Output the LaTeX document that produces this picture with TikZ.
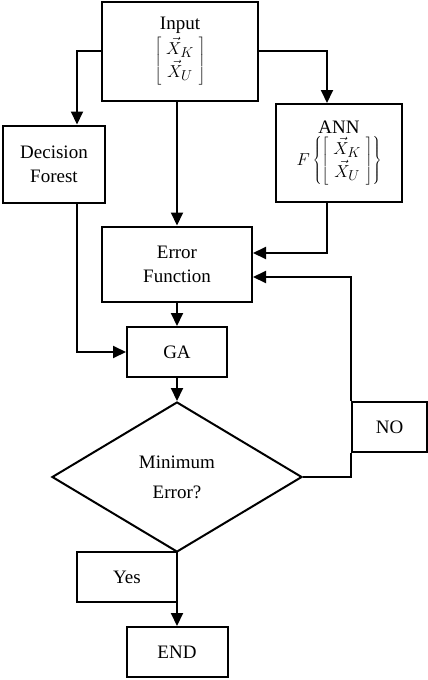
\documentclass[tikz,border=0pt]{standalone}
\usepackage{fontspec}
\setmainfont{Liberation Serif}
\usetikzlibrary{arrows.meta,shapes.geometric}

\tikzset{
  box/.style={draw, line width=2pt, rectangle, align=center, inner sep=0pt},
  arr/.style={line width=2pt, -{Triangle[length=13pt,width=12pt]}},
  lin/.style={line width=2pt},
}

\begin{document}
\begin{tikzpicture}[x=1pt,y=-1pt,font=\fontsize{19}{24}\selectfont]

			% cadre de la figure
			\useasboundingbox (0,0) rectangle (428,680);

			% Boites du haut
			\node[box, minimum width=156pt, minimum height=99pt] (inp) at (180,51)
			  {Input\\[2pt] $\left[\begin{array}{c}\vec{X}_{K}\\[-1pt] \vec{X}_{U}\end{array}\right]$};
			\node[box, minimum width=102pt, minimum height=77pt] (df) at (54,164) {Decision\\ Forest};
			\node[box, minimum width=126pt, minimum height=98pt] (ann) at (339,153)
			  {ANN\\[2pt] $F\left\{\left[\begin{array}{c}\vec{X}_{K}\\[-1pt] \vec{X}_{U}\end{array}\right]\right\}$};

			% Fonction d'erreur et GA
			\node[box, minimum width=150pt, minimum height=75pt] (ef) at (177,264) {Error\\ Function};
			\node[box, minimum width=100pt, minimum height=50pt] (ga) at (177,352) {GA};

			% Losange de decision
			\node[draw, line width=2pt, diamond, inner sep=0pt, minimum width=250pt, minimum height=150pt,
			  align=center, font=\fontsize{19}{30}\selectfont] (dec) at (177,477) {Minimum\\ Error?};

			% Sorties
			\node[box, minimum width=75pt, minimum height=50pt] (no) at (389.5,427) {NO};
			\node[box, minimum width=100pt, minimum height=50pt] (yes) at (127,577) {Yes};
			\node[box, minimum width=101pt, minimum height=50pt] (end) at (177,652) {END};

			% points de passage
			\coordinate (dfin) at (77,0);
			\coordinate (annin) at (327,0);
			\coordinate (efa) at (0,253);
			\coordinate (efb) at (0,277);

			% Fleches depuis Input
			\draw[arr] (inp.west) -| (dfin |- df.north);
			\draw[arr] (inp.east) -| (annin |- ann.north);
			\draw[arr] (inp.south -| ef.north) -- (ef.north);

			% ANN -> Error Function
			\draw[arr] (annin |- ann.south) |- (ef.east |- efa);

			% Decision Forest -> GA
			\draw[arr] (dfin |- df.south) |- (ga.west);

			% chaine centrale
			\draw[arr] (ef.south) -- (ga.north);
			\draw[arr] (ga.south) -- (dec.north);

			% boucle NO
			\draw[lin] (dec.east) -| (no.south west);
			\draw[arr] (no.north west) |- (ef.east |- efb);

			% sortie Yes
			\draw[arr] (dec.south) -- (end.north);

		\end{tikzpicture}
\end{document}
